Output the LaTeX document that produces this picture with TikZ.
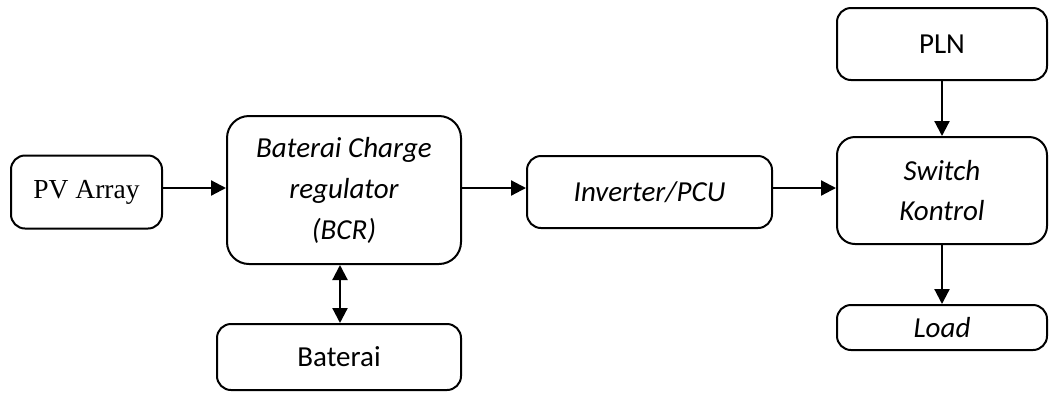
\documentclass[tikz,border=0pt]{standalone}
\usepackage{fontspec}
\setmainfont{Carlito}
\newfontfamily\timesfont{Liberation Serif}
\usetikzlibrary{arrows.meta}
\begin{document}
\begin{tikzpicture}[x=1pt,y=-1pt,
  blk/.style={draw, line width=2pt, rounded corners=14pt, inner sep=0pt, align=center,
    font=\fontsize{29}{41}\selectfont},
  arr/.style={line width=2.2pt, -{Triangle[length=15pt,width=15pt]}},
  darr/.style={line width=2.2pt, {Triangle[length=15pt,width=15pt]}-{Triangle[length=15pt,width=15pt]}}]
\useasboundingbox (0,0) rectangle (1049,392);
\node[blk, minimum width=151pt, minimum height=73pt, font=\timesfont\fontsize{27.5}{30}\selectfont] (pv) at (86.5,192) {PV Array};
\node[blk, minimum width=234pt, minimum height=148pt, rounded corners=22pt] (bcr) at (344,190) {\itshape Baterai Charge\\\itshape regulator\\\itshape (BCR)};
\node[blk, minimum width=244pt, minimum height=66pt] (bat) at (339,357) {Baterai};
\node[blk, minimum width=245pt, minimum height=72pt] (inv) at (649.5,192) {\itshape Inverter/PCU};
\node[blk, minimum width=210pt, minimum height=107pt, rounded corners=18pt, font=\fontsize{29}{40}\selectfont] (sw) at (942,190.5) {\itshape Switch\\\itshape Kontrol};
\node[blk, minimum width=210pt, minimum height=72pt] (pln) at (942,44) {PLN};
\node[blk, minimum width=210pt, minimum height=45pt] (load) at (942,327.5) {\itshape Load};
\draw[arr] (pv.east |- 0,188) -- (bcr.west |- 0,188);
\draw[arr] (bcr.east |- 0,188) -- (inv.west |- 0,188);
\draw[arr] (inv.east |- 0,188) -- (sw.west |- 0,188);
\draw[darr] (bat.north -| 340,0) -- (bcr.south -| 340,0);
\draw[arr] (pln.south) -- (sw.north);
\draw[arr] (sw.south) -- (load.north);
\end{tikzpicture}
\end{document}
